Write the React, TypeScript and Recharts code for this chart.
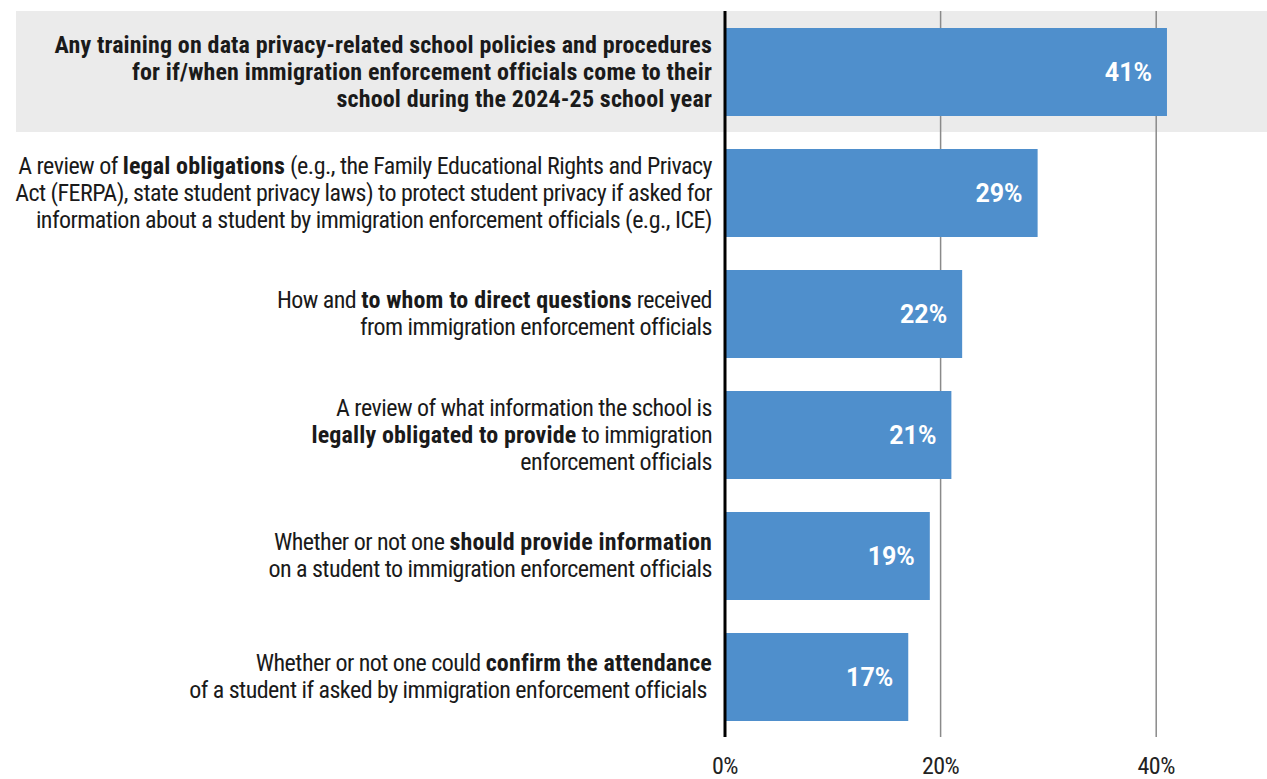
import React from 'react';
import {
  BarChart,
  Bar,
  XAxis,
  YAxis,
  CartesianGrid,
  ReferenceArea,
  LabelList,
} from 'recharts';

// ** marks bold runs, \n breaks lines
const labels = [
  '**Any training on data privacy-related school policies and procedures**\n**for if/when immigration enforcement officials come to their**\n**school during the 2024-25 school year**',
  'A review of **legal obligations** (e.g., the Family Educational Rights and Privacy\nAct (FERPA), state student privacy laws) to protect student privacy if asked for\ninformation about a student by immigration enforcement officials (e.g., ICE)',
  'How and **to whom to direct questions** received\nfrom immigration enforcement officials',
  'A review of what information the school is\n**legally obligated to provide** to immigration\nenforcement officials',
  'Whether or not one **should provide information**\non a student to immigration enforcement officials',
  'Whether or not one could **confirm the attendance**\nof a student if asked by immigration enforcement officials ',
];
const values = [41, 29, 22, 21, 19, 17];
const xTicks = [0, 20, 40];
const xDomain = [0, 50];

const data = labels.map((label, i) => ({ label, value: values[i] }));

const WIDTH = 1267;
const HEIGHT = 779;
const FONT =
  "'Roboto Condensed', 'Liberation Sans Narrow', 'DejaVu Sans Condensed', Roboto, sans-serif";

function parseLine(line: string) {
  return line
    .split('**')
    .map((text, i) => ({ text, bold: i % 2 === 1 }))
    .filter((s) => s.text.length > 0);
}

function CategoryTick({ x, y, payload }: any) {
  const lines = String(payload.value).split('\n');
  return (
    <text
      x={x}
      y={y}
      textAnchor="end"
      fontFamily={FONT}
      fontSize={24}
      fill="#1a1a1a"
      style={{ whiteSpace: 'pre' }}
    >
      {lines.map((line, i) => (
        <tspan key={i} x={x} y={y + (i - (lines.length - 1) / 2) * 27} dy="0.35em">
          {parseLine(line).map((s, j) => (
            <tspan
              key={j}
              fontWeight={s.bold ? 700 : 400}
              letterSpacing={s.bold ? 0.15 : -0.53}
            >
              {s.text}
            </tspan>
          ))}
        </tspan>
      ))}
    </text>
  );
}

function PercentTick({ x, y, payload }: any) {
  return (
    <text
      x={x}
      y={y}
      dy={29}
      textAnchor="middle"
      fontFamily={FONT}
      fontSize={24}
      letterSpacing={-0.5}
      fill="#222"
    >
      {`${payload.value}%`}
    </text>
  );
}

// grid only at the labelled ticks (no line at the domain end)
function gridPoints({ offset }: any) {
  const [lo, hi] = xDomain;
  return xTicks.map((t) => offset.left + ((t - lo) / (hi - lo)) * offset.width);
}

export default function App() {
  return (
    <div style={{ position: 'absolute', left: 0, top: 0, width: WIDTH, height: HEIGHT, background: '#fff' }}>
      <BarChart
        width={WIDTH}
        height={HEIGHT}
        data={data}
        layout="vertical"
        margin={{ top: 11, right: 3, bottom: 0, left: 0 }}
      >
        <ReferenceArea
          y1={labels[0]}
          y2={labels[0]}
          zIndex={-200}
          ifOverflow="visible"
          shape={(p: any) => (
            <rect x={16} y={p.y} width={WIDTH - 16} height={p.height} fill="#ebebeb" />
          )}
        />
        <CartesianGrid
          horizontal={false}
          stroke="#8a8a8a"
          strokeWidth={1.5}
          verticalCoordinatesGenerator={gridPoints}
        />
        <XAxis
          type="number"
          domain={xDomain}
          ticks={xTicks}
          axisLine={false}
          tickLine={false}
          height={42}
          tick={<PercentTick />}
        />
        <YAxis
          type="category"
          dataKey="label"
          width={725}
          axisLine={{ stroke: '#000', strokeWidth: 3 }}
          tickLine={false}
          tickSize={0}
          tickMargin={13}
          interval={0}
          tick={<CategoryTick />}
        />
        <Bar dataKey="value" fill="#4f8fcc" barSize={88} isAnimationActive={false}>
          <LabelList
            dataKey="value"
            position="insideRight"
            offset={15}
            formatter={(v: any) => `${v}%`}
            fill="#fff"
            fontSize={25}
            fontWeight={700}
            fontFamily="Roboto, sans-serif"
          />
        </Bar>
      </BarChart>
    </div>
  );
}
